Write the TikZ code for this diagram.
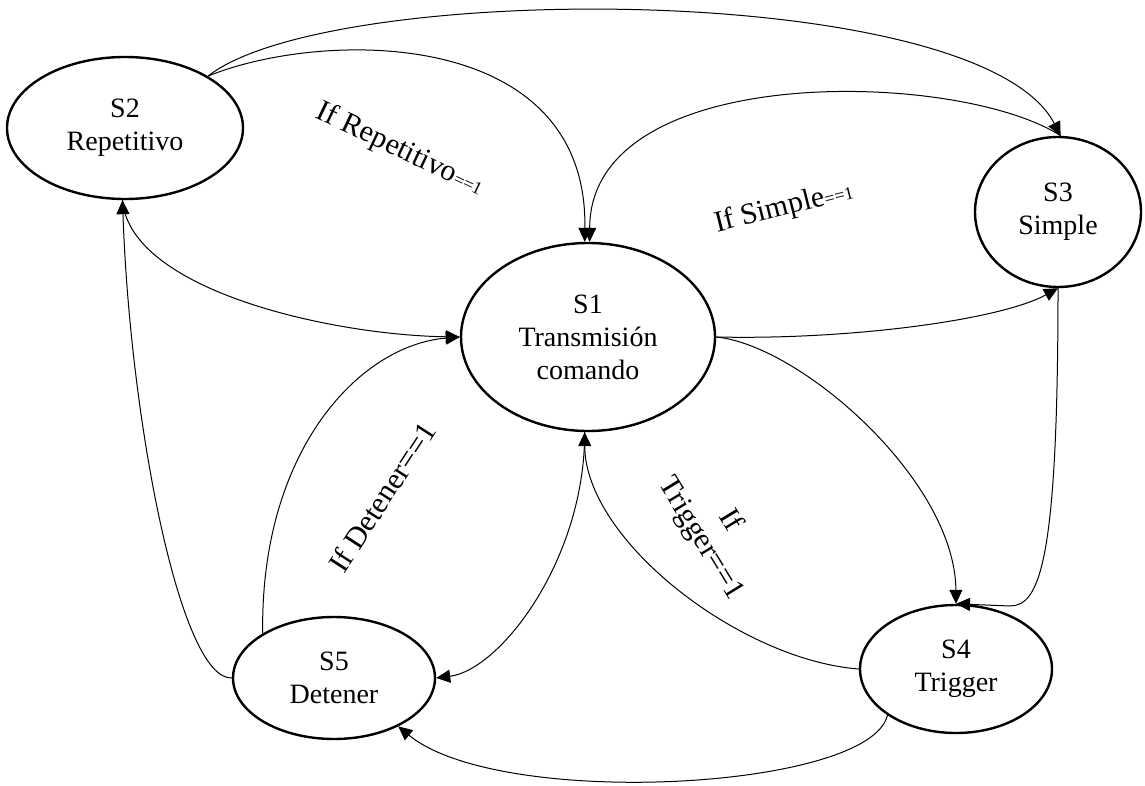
\documentclass[tikz,border=0pt]{standalone}
\usepackage{fontspec}
\setmainfont{Liberation Serif}
\usetikzlibrary{shapes.geometric,arrows.meta}
\begin{document}
\begin{tikzpicture}[x=0.5pt, y=-0.5pt,
    state/.style = {ellipse, draw, line width=1.2pt, inner sep=0pt, align=center,
                    font=\fontsize{14}{16.5}\selectfont},
    trans/.style = {line width=0.5pt, -{Triangle[length=7pt,width=6.5pt]}},
    cond/.style  = {align=center, font=\fontsize{15}{17}\selectfont}]

   \useasboundingbox (0,0) rectangle (1145,786);

   \node [state, minimum width=127pt, minimum height=94pt] (s1) at (588,337) {S1\\Transmisión\\comando};
   \node [state, minimum width=118pt, minimum height=71pt] (s2) at (125,128) {S2\\Repetitivo};
   \node [state, minimum width=83pt,  minimum height=75pt] (s3) at (1058,212) {S3\\Simple};
   \node [state, minimum width=96pt,  minimum height=64pt] (s4) at (956,669) {S4\\Trigger};
   \node [state, minimum width=101pt, minimum height=61pt] (s5) at (334,678) {S5\\Detener};

   \draw [trans] (s2.32) .. controls (330,-20) and (980,-20) .. (s3.88);
   \draw [trans] (s2.32) .. controls (320,30) and (588,25) .. (s1.92);
   \draw [trans] (s3.88) .. controls (960,70) and (590,60) .. (s1.89);
   \draw [trans] (s2.268) .. controls (130,290) and (330,335) .. (s1.west);
   \draw [trans] (s5.west) .. controls (180,680) and (130,420) .. (s2.268);
   \draw [trans] (s5.148) .. controls (260,450) and (360,345) .. (s1.west);
   \draw [trans] (s1.268) .. controls (585,560) and (500,670) .. (s5.east);
   \draw [trans] (s4.west) .. controls (740,660) and (585,540) .. (s1.268);
   \draw [trans] (s1.east) .. controls (850,340) and (1000,320) .. (s3.south);
   \draw [trans] (s1.east) .. controls (800,345) and (955,480) .. (s4.north);
   \draw [trans] (s3.south) .. controls (1058,560) and (1040,606) .. (1010,606) -- (s4.north);
   \draw [trans] (s4.214) .. controls (870,790) and (500,810) .. (s5.323);

   \node [cond, rotate=-25.5] (crep) at (400,150) {If Repetitivo{\fontsize{9}{10}\selectfont==1}};
   \node [cond, rotate=14] (csim) at (784,208) {If Simple{\fontsize{9}{10}\selectfont==1}};
   \node [cond, rotate=57] (cdet) at (382,497) {If Detener==1};
   \node [cond, rotate=-58.6] (ctrig) at (715,530) {If\\Trigger==1};

\end{tikzpicture}
\end{document}
